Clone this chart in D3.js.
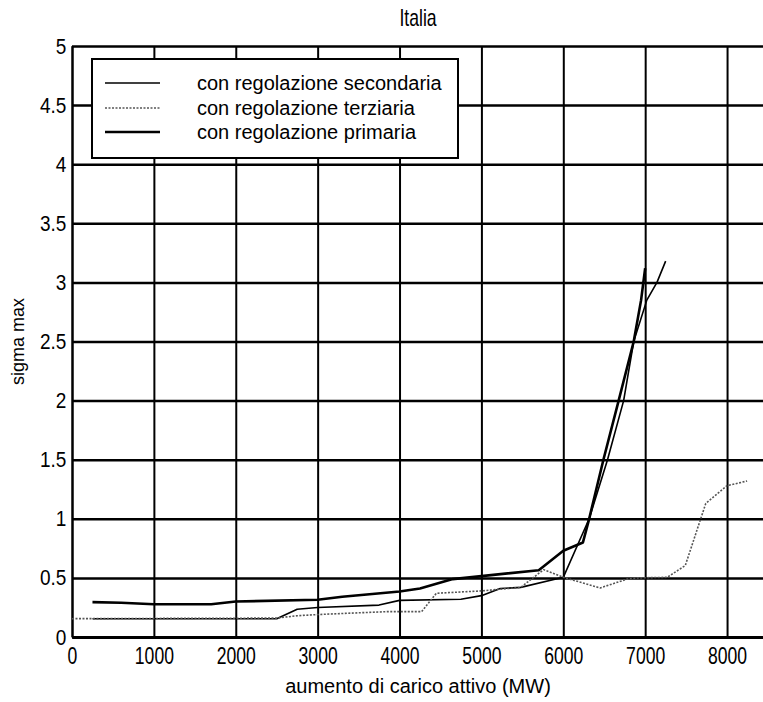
<!DOCTYPE html>
<html>
<head>
<meta charset="utf-8">
<script src="https://cdn.jsdelivr.net/npm/d3@7"></script>
<style>
  body { margin: 0; background: #fff; }
  svg { display: block; font-family: "Liberation Sans", Arial, sans-serif; }
</style>
</head>
<body>
<svg width="763" height="702"></svg>
<script>
// tick values
var xTicks = [0, 1000, 2000, 3000, 4000, 5000, 6000, 7000, 8000];
var yTicks = [0, 0.5, 1, 1.5, 2, 2.5, 3, 3.5, 4, 4.5, 5];

// con regolazione secondaria (thin solid)
var secX = [250, 2500, 2750, 3000, 3750, 4000, 4750, 5000, 5230, 5480, 6000, 6316, 6540, 6737, 6860, 7020, 7144, 7250];
var secY = [0.155, 0.155, 0.235, 0.25, 0.27, 0.31, 0.32, 0.35, 0.41, 0.42, 0.505, 1.0, 1.5, 2.0, 2.5, 2.85, 3.0, 3.18];

// con regolazione terziaria (dotted grey)
var terX = [0, 2500, 2750, 3000, 3860, 4270, 4450, 5000, 5480, 5760, 6000, 6450, 6780, 6900, 7270, 7490, 7740, 8000, 8245];
var terY = [0.155, 0.16, 0.18, 0.19, 0.215, 0.215, 0.37, 0.39, 0.42, 0.57, 0.505, 0.415, 0.49, 0.5, 0.505, 0.605, 1.13, 1.28, 1.32];

// con regolazione primaria (thick solid)
var priX = [250, 600, 1000, 1700, 2000, 3000, 3300, 4000, 4250, 4650, 5000, 5700, 6000, 6240, 6316, 6490, 6676, 6860, 6950, 7000];
var priY = [0.295, 0.29, 0.277, 0.277, 0.30, 0.315, 0.34, 0.385, 0.41, 0.49, 0.515, 0.565, 0.73, 0.80, 1.0, 1.5, 2.0, 2.5, 2.85, 3.12];

var seriesNames = ["con regolazione secondaria", "con regolazione terziaria", "con regolazione primaria"];

var svg = d3.select("svg"),
    plotLeft = 72, plotRight = 768, plotTop = 46, plotBottom = 637;

var x = d3.scaleLinear().domain([0, 8500]).range([plotLeft, plotRight]),
    y = d3.scaleLinear().domain([0, 5]).range([plotBottom, plotTop]);

var condensed = "scale(0.88,1.15)";

// vertical grid + x ticks
var gx = svg.append("g")
    .attr("transform", "translate(0," + plotBottom + ")")
    .call(d3.axisBottom(x).tickValues(xTicks).tickSize(-(plotBottom - plotTop)).tickSizeOuter(0).tickPadding(9)
        .tickFormat(d3.format("d")));
gx.select(".domain").attr("stroke", "#000").attr("stroke-width", 3);
gx.selectAll(".tick line").attr("stroke", "#000").attr("stroke-width", 2);
gx.selectAll(".tick text")
    .attr("fill", "#000")
    .style("font-size", "20px")
    .attr("transform", condensed);

// horizontal grid + y ticks
var gy = svg.append("g")
    .attr("transform", "translate(" + plotLeft + ",0)")
    .call(d3.axisLeft(y).tickValues(yTicks).tickSize(-(plotRight - plotLeft)).tickSizeOuter(0).tickPadding(6)
        .tickFormat(function(d) { return String(d); }));
gy.select(".domain").attr("stroke", "#000").attr("stroke-width", 2);
gy.selectAll(".tick line").attr("stroke", "#000").attr("stroke-width", 2.5);
gy.selectAll(".tick text")
    .attr("fill", "#000")
    .style("font-size", "20px")
    .attr("transform", "scale(0.95,1.1)");

// lines
function pts(xs, ys) {
    return xs.map(function(v, i) { return [v, ys[i]]; });
}
var line = d3.line()
    .x(function(d) { return x(d[0]); })
    .y(function(d) { return y(d[1]); });

var styles = [
    {data: pts(secX, secY), stroke: "#000", width: 1.6, dash: null},
    {data: pts(terX, terY), stroke: "#555", width: 1.6, dash: "2,1.5"},
    {data: pts(priX, priY), stroke: "#000", width: 2.6, dash: null}
];

styles.forEach(function(s) {
    svg.append("path")
        .datum(s.data)
        .attr("fill", "none")
        .attr("stroke", s.stroke)
        .attr("stroke-width", s.width)
        .attr("stroke-dasharray", s.dash)
        .attr("stroke-linejoin", "round")
        .attr("d", line);
});

// legend
var legend = svg.append("g");
legend.append("rect")
    .attr("x", 92).attr("y", 59)
    .attr("width", 366).attr("height", 99)
    .attr("fill", "#fff")
    .attr("stroke", "#000")
    .attr("stroke-width", 2);

var rowY = [83, 108, 132];
styles.forEach(function(s, i) {
    legend.append("line")
        .attr("x1", 105).attr("x2", 160)
        .attr("y1", rowY[i]).attr("y2", rowY[i])
        .attr("stroke", s.stroke)
        .attr("stroke-width", s.width)
        .attr("stroke-dasharray", s.dash);
    legend.append("text")
        .attr("x", 197).attr("y", rowY[i] + 7)
        .style("font-size", "20px")
        .text(seriesNames[i]);
});

// title and axis labels
svg.append("text")
    .attr("transform", "translate(418,26) " + condensed)
    .attr("text-anchor", "middle")
    .style("font-size", "20px")
    .text("Italia");

svg.append("text")
    .attr("x", 418).attr("y", 693)
    .attr("text-anchor", "middle")
    .style("font-size", "20px")
    .text("aumento di carico attivo (MW)");

svg.append("text")
    .attr("transform", "translate(24," + ((plotTop + plotBottom) / 2) + ") rotate(-90)")
    .attr("text-anchor", "middle")
    .style("font-size", "18px")
    .text("sigma max");
</script>
</body>
</html>
